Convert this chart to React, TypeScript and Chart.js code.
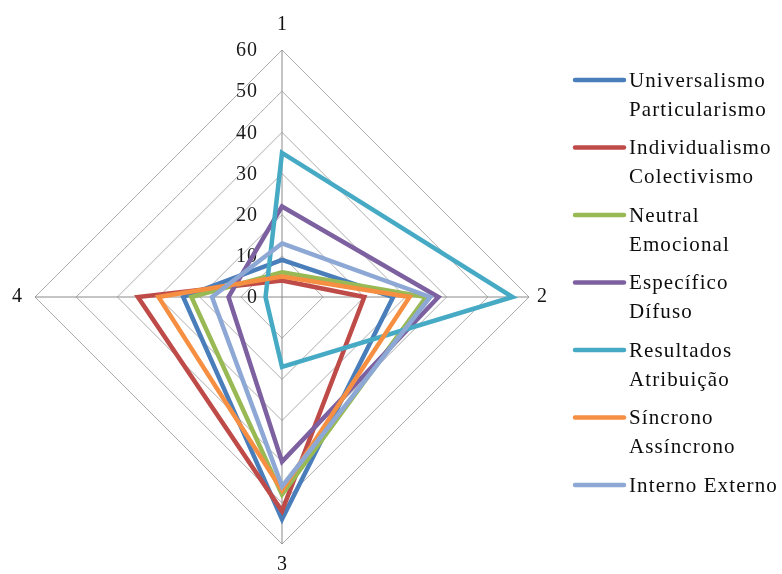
import { useEffect, useRef } from 'react';
import { Chart, registerables } from 'chart.js';

Chart.register(...registerables);

// Radar axes and the value scale
const axisLabels = ['1', '2', '3', '4'];
const tickValues = [0, 10, 20, 30, 40, 50, 60];

// One array per dimension pair, values on axes 1..4
const universalismo = [9, 27, 54, 24];
const individualismo = [4, 20, 52, 35];
const neutral = [6, 35, 48, 22];
const especifico = [22, 38, 40, 13];
const resultados = [35, 56, 17, 4];
const sincrono = [5, 31, 47, 30];
const interno = [13, 36, 46, 17];

const seriesValues = [universalismo, individualismo, neutral, especifico, resultados, sincrono, interno];

const seriesNames: string[][] = [
  ['Universalismo', 'Particularismo'],
  ['Individualismo', 'Colectivismo'],
  ['Neutral', 'Emocional'],
  ['Específico', 'Dífuso'],
  ['Resultados', 'Atribuição'],
  ['Síncrono', 'Assíncrono'],
  ['Interno Externo'],
];

const seriesColors = ['#4A7EBB', '#BE4B48', '#98B954', '#7D60A0', '#46AAC5', '#F68F41', '#8DA8D5'];

const SERIF = '"Liberation Serif", "Times New Roman", serif';

// Scale numbers drawn to the left of the first axis
const radialTickLabels = {
  id: 'radialTickLabels',
  beforeDatasetsDraw(chart: any) {
    const scale = chart.scales.r;
    const ctx = chart.ctx;
    ctx.save();
    ctx.font = `20px ${SERIF}`;
    (ctx as any).letterSpacing = '1px';
    ctx.fillStyle = '#1a1a1a';
    ctx.textAlign = 'right';
    ctx.textBaseline = 'middle';
    tickValues.forEach((v) => {
      const y = scale.yCenter - scale.getDistanceFromCenterForValue(v);
      ctx.fillText(String(v), scale.xCenter - 24, y + 1);
    });
    ctx.restore();
  },
};

// Legend on the right with two-line entries
const sideLegend = {
  id: 'sideLegend',
  afterDraw(chart: any) {
    const ctx = chart.ctx;
    const left = chart.chartArea.right + 15;
    ctx.save();
    ctx.font = `21px ${SERIF}`;
    (ctx as any).letterSpacing = '1.1px';
    ctx.textAlign = 'left';
    ctx.textBaseline = 'middle';
    chart.data.datasets.forEach((ds: any, i: number) => {
      const y = 80 + i * 67.5;
      ctx.strokeStyle = ds.borderColor;
      ctx.lineWidth = 4.5;
      ctx.lineCap = 'round';
      ctx.beginPath();
      ctx.moveTo(left, y);
      ctx.lineTo(left + 49, y);
      ctx.stroke();
      ctx.fillStyle = '#0d0d0d';
      seriesNames[i].forEach((line, j) => {
        ctx.fillText(line, left + 54, y + 1 + j * 29);
      });
    });
    ctx.restore();
  },
};

export default function App() {
  const canvasRef = useRef<HTMLCanvasElement | null>(null);

  useEffect(() => {
    const canvas = canvasRef.current;
    if (!canvas) return;
    const chart = new Chart(canvas, {
      type: 'radar',
      data: {
        labels: axisLabels,
        datasets: seriesValues.map((values, i) => ({
          label: seriesNames[i].join(' '),
          data: values,
          borderColor: seriesColors[i],
          backgroundColor: seriesColors[i],
          borderWidth: 4.5,
          borderJoinStyle: 'miter' as const,
          borderCapStyle: 'round' as const,
          pointRadius: 0,
          pointHoverRadius: 0,
          fill: false,
          tension: 0,
          order: seriesValues.length - 1 - i,
        })),
      },
      options: {
        responsive: false,
        animation: false,
        events: [],
        layout: { padding: { left: 0, right: 222, top: 17, bottom: 1 } },
        plugins: {
          legend: { display: false },
          tooltip: { enabled: false },
        },
        scales: {
          r: {
            min: 0,
            max: 60,
            beginAtZero: true,
            ticks: { stepSize: 10, display: false },
            grid: { color: '#adadad', lineWidth: 1 },
            angleLines: { color: '#8a8a8a', lineWidth: 1 },
            pointLabels: {
              color: '#111',
              font: { family: SERIF, size: 20, lineHeight: 0.6 },
              padding: (ctx: any) => [19, 8, 15, 13][ctx.index] ?? 10,
            },
          },
        },
      },
      plugins: [radialTickLabels, sideLegend],
    });
    return () => chart.destroy();
  }, []);

  return (
    <div style={{ position: 'absolute', left: 0, top: 0, width: 782, height: 574, background: '#fff' }}>
      <canvas ref={canvasRef} width={782} height={574} style={{ width: 782, height: 574, display: 'block' }} />
    </div>
  );
}
